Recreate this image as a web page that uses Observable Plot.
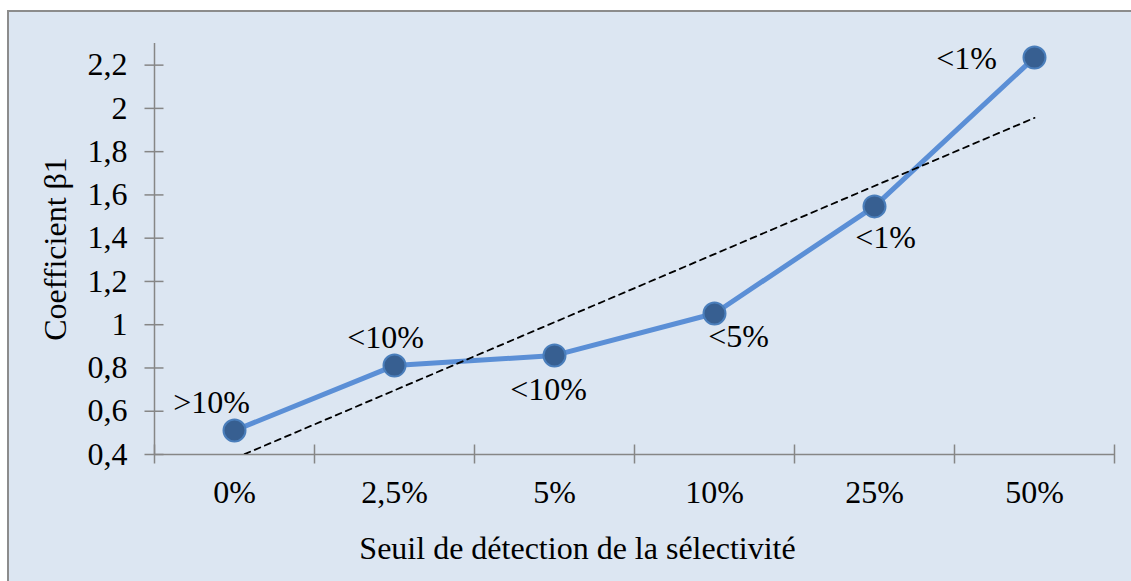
<!DOCTYPE html>
<html>
<head>
<meta charset="utf-8">
<script src="https://cdn.jsdelivr.net/npm/d3@7"></script>
<script src="https://cdn.jsdelivr.net/npm/@observablehq/plot@0.6"></script>
<style>
  html, body { margin: 0; padding: 0; background: #ffffff; overflow: hidden; }
  #wrap { position: relative; width: 1131px; height: 581px; }
  #box { position: absolute; left: 7px; top: 10px; width: 1140px; height: 590px;
         background: #dce6f2; border: 2px solid #8c8c8c; }
  #chart { position: absolute; left: 0; top: 0; }
</style>
</head>
<body>
<div id="wrap"><div id="box"></div><div id="chart"></div></div>
<script>
const categories = ["0%", "2,5%", "5%", "10%", "25%", "50%"];
const coefficients = [0.511, 0.811, 0.858, 1.052, 1.547, 2.235];
const significance = [">10%", "<10%", "<10%", "<5%", "<1%", "<1%"];
const yTicks = [0.4, 0.6, 0.8, 1, 1.2, 1.4, 1.6, 1.8, 2, 2.2];
const xTitle = "Seuil de détection de la sélectivité";
const yTitle = "Coefficient β1";

// label nudges (pixels) per point, layout only
const labelNudge = [[-23, -28], [-9, -28], [-6, 34], [24, 23], [11, 31], [-68, 1]];

const data = categories.map((c, k) => ({i: k + 1, cat: c, v: coefficients[k], sig: significance[k]}));
const bounds = d3.range(0.5, categories.length + 1, 1);
const centers = d3.range(1, categories.length + 1);

const FONT = 32;
const FAMILY = "'Liberation Serif', 'Times New Roman', serif";
const axisColor = "#868686";

const plot = Plot.plot({
  width: 1131,
  height: 581,
  marginLeft: 154,
  marginRight: 17,
  marginTop: 43,
  marginBottom: 127,
  style: {background: "transparent", fontFamily: FAMILY, fontSize: FONT + "px", color: "black", overflow: "visible"},
  x: {type: "linear", domain: [0.5, categories.length + 0.5]},
  y: {domain: [0.4, 2.3]},
  marks: [
    Plot.ruleX([0.5], {stroke: axisColor, strokeWidth: 1.5}),
    Plot.ruleY([0.4], {stroke: axisColor, strokeWidth: 1.5}),
    Plot.axisX(bounds, {tickSize: 19, dy: -9.5, tickFormat: () => "", stroke: axisColor, strokeWidth: 1.5, label: null}),
    Plot.axisX(centers, {tickSize: 0, tickPadding: 26, tickFormat: i => categories[i - 1], fontSize: FONT, fontFamily: FAMILY, fill: "black", label: null}),
    Plot.axisY(yTicks, {tickSize: 19, dx: 9.5, tickFormat: () => "", stroke: axisColor, strokeWidth: 1.5, label: null}),
    Plot.axisY(yTicks, {tickSize: 0, tickPadding: 27, tickFormat: d => String(d).replace(".", ","), fontSize: FONT, fontFamily: FAMILY, fill: "black", label: null}),
    Plot.text([xTitle], {frameAnchor: "bottom", textAnchor: "middle", lineAnchor: "middle", dx: -57, dy: 94, fontSize: FONT, fontFamily: FAMILY, fill: "black"}),
    Plot.text([yTitle], {frameAnchor: "left", textAnchor: "middle", lineAnchor: "middle", dx: -99, rotate: -90, fontSize: FONT, fontFamily: FAMILY, fill: "black"}),
    Plot.line(data, {x: "i", y: "v", stroke: "#5b8fd6", strokeWidth: 5}),
    Plot.linearRegressionY(data, {x: "i", y: "v", ci: 0, stroke: "black", strokeWidth: 1.8, strokeDasharray: "6,5", clip: true}),
    Plot.dot(data, {x: "i", y: "v", r: 11, fill: "#375f91", stroke: "#4a7ebb", strokeWidth: 2}),
    ...data.map((d, k) => Plot.text([d], {x: "i", y: "v", text: "sig", dx: labelNudge[k][0], dy: labelNudge[k][1], fontSize: FONT, fontFamily: FAMILY, fill: "black"}))
  ]
});
document.getElementById("chart").appendChild(plot);
</script>
</body>
</html>
